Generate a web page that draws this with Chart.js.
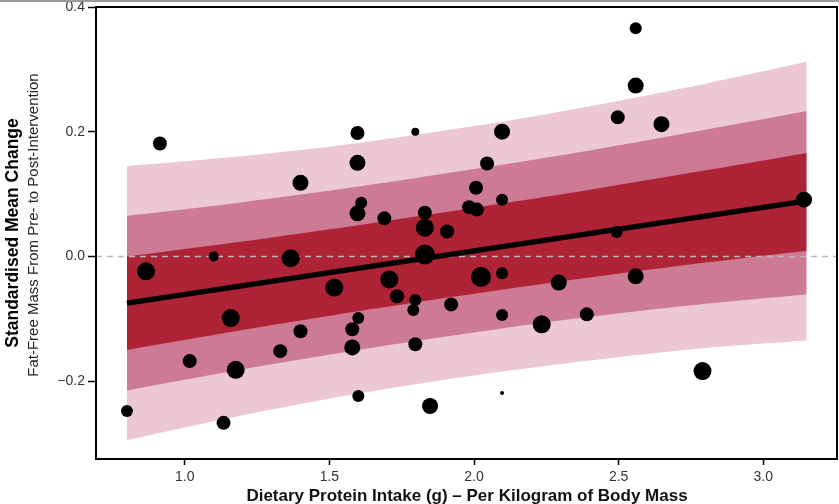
<!DOCTYPE html>
<html>
<head>
<meta charset="utf-8">
<script src="https://cdn.jsdelivr.net/npm/chart.js@4.4.1/dist/chart.umd.min.js"></script>
<style>
  html, body { margin: 0; padding: 0; background: #fff; }
  body { width: 839px; height: 504px; overflow: hidden; border-top: 2px solid #9a9a9a; box-sizing: border-box; }
  #wrap { position: relative; width: 839px; height: 502px; }
</style>
</head>
<body>
<div id="wrap"><canvas id="c"></canvas></div>
<script>
// ---- Data ----
const xTicks = [1.0, 1.5, 2.0, 2.5, 3.0];
const yTicks = [-0.2, 0.0, 0.2, 0.4];

// Study estimates: protein intake (g/kg), standardised mean change, weight (marker size)
const studyX = [0.80, 0.866, 0.914, 1.017, 1.10, 1.134, 1.159, 1.176, 1.33, 1.366,
                1.40, 1.40, 1.517, 1.579, 1.579, 1.597, 1.597, 1.597, 1.61, 1.60,
                1.60, 1.69, 1.707, 1.734, 1.797, 1.797, 1.79, 1.797, 1.83, 1.83,
                1.83, 1.848, 1.907, 1.921, 1.983, 2.01, 2.007, 2.024, 2.045, 2.097,
                2.097, 2.097, 2.097, 2.097, 2.234, 2.293, 2.39, 2.493, 2.497, 2.559,
                2.559, 2.559, 2.648, 2.79, 3.141];
const studyY = [-0.248, -0.024, 0.181, -0.168, 0.0, -0.267, -0.099, -0.182, -0.152, -0.003,
                0.118, -0.120, -0.050, -0.117, -0.146, 0.198, 0.150, 0.069, 0.086, -0.099,
                -0.224, 0.061, -0.037, -0.064, 0.200, -0.070, -0.086, -0.141, 0.070, 0.046,
                0.003, -0.240, 0.040, -0.077, 0.079, 0.075, 0.110, -0.033, 0.149, 0.200,
                0.091, -0.027, -0.094, -0.219, -0.109, -0.042, -0.093, 0.039, 0.223, 0.366,
                0.274, -0.032, 0.212, -0.184, 0.091];
const studyWeight = [6, 9, 7, 7, 5, 7, 9, 9, 7, 9,
                     8, 7, 9, 7, 8, 7, 8, 8, 6, 6,
                     6, 7, 9, 7, 4, 6, 6, 7, 7, 9,
                     10, 8, 7, 7, 7, 7, 7, 10, 7, 8,
                     6, 6, 6, 2, 9, 8, 7, 6, 7, 6,
                     8, 8, 8, 9, 8];

// Meta-regression fit and interval bands
const fitX = [0.80, 3.15];
const fitY = [-0.075, 0.089];
const bandX      = [0.80, 1.20, 1.60, 2.00, 2.40, 2.80, 3.15];
const outerUpper = [0.145, 0.161, 0.182, 0.209, 0.241, 0.277, 0.312];
const outerLower = [-0.295, -0.255, -0.220, -0.191, -0.167, -0.147, -0.135];
const midUpper   = [0.065, 0.087, 0.112, 0.140, 0.170, 0.203, 0.233];
const midLower   = [-0.215, -0.181, -0.150, -0.122, -0.097, -0.076, -0.061];
const innerUpper = [0.000, 0.024, 0.050, 0.078, 0.107, 0.138, 0.166];
const innerLower = [-0.150, -0.118, -0.088, -0.060, -0.034, -0.010, 0.009];

const xMin = 0.693, xMax = 3.255, yMin = -0.325, yMax = 0.40;

// ---- Build ----
const pts = (xs, ys) => xs.map((x, i) => ({ x: x, y: ys[i] }));
const FONT = "'Liberation Sans', Arial, Helvetica, sans-serif";
const C_OUTER = '#ecc8d3', C_MID = '#cd7b94', C_INNER = '#ae2335';

function band(data, color, fillTarget, order) {
  return { type: 'line', data: data, borderWidth: 0, borderColor: color, backgroundColor: color,
           pointRadius: 0, fill: fillTarget, order: order, tension: 0.3 };
}

const datasets = [
  band(pts(bandX, outerUpper), C_OUTER, 1, 30),
  band(pts(bandX, outerLower), C_OUTER, false, 31),
  band(pts(bandX, midUpper), C_MID, 3, 20),
  band(pts(bandX, midLower), C_MID, false, 21),
  band(pts(bandX, innerUpper), C_INNER, 5, 10),
  band(pts(bandX, innerLower), C_INNER, false, 11),
  { type: 'line', data: pts([xMin, xMax], [0, 0]), borderColor: '#b8b8b8', borderWidth: 1.5,
    borderDash: [6, 5], pointRadius: 0, fill: false, order: 6 },
  { type: 'line', data: pts(fitX, fitY), borderColor: '#000', borderWidth: 5.5,
    pointRadius: 0, fill: false, order: 4, borderCapStyle: 'butt' },
  { type: 'scatter', data: pts(studyX, studyY), backgroundColor: '#000', borderWidth: 0,
    pointRadius: studyWeight, pointHoverRadius: studyWeight, order: 0 }
];

const boxAndTitles = {
  id: 'boxAndTitles',
  afterDraw(chart) {
    const { ctx, chartArea: a } = chart;
    ctx.save();
    ctx.strokeStyle = '#000';
    ctx.lineWidth = 2;
    ctx.strokeRect(a.left, a.top, a.right - a.left, a.bottom - a.top);
    ctx.restore();

    ctx.save();
    ctx.fillStyle = '#000';
    ctx.textAlign = 'center';
    ctx.textBaseline = 'middle';
    ctx.translate(13, 231);
    ctx.rotate(-Math.PI / 2);
    ctx.font = 'bold 17.5px ' + FONT;
    ctx.fillText('Standardised Mean Change', 0, 0);
    ctx.restore();

    ctx.save();
    ctx.fillStyle = '#222';
    ctx.textAlign = 'center';
    ctx.textBaseline = 'middle';
    ctx.translate(34, 223);
    ctx.rotate(-Math.PI / 2);
    ctx.font = '15px ' + FONT;
    ctx.fillText('Fat-Free Mass From Pre- to Post-Intervention', 0, 0);
    ctx.restore();

    ctx.save();
    ctx.fillStyle = '#111';
    ctx.font = 'bold 17px ' + FONT;
    ctx.textAlign = 'center';
    ctx.textBaseline = 'middle';
    ctx.fillText('Dietary Protein Intake (g) \u2013 Per Kilogram of Body Mass', 467, 494);
    ctx.restore();
  }
};

new Chart(document.getElementById('c'), {
  type: 'scatter',
  data: { datasets: datasets },
  options: {
    responsive: true,
    maintainAspectRatio: false,
    animation: false,
    layout: { autoPadding: false, padding: { top: 5, right: 2, left: 0, bottom: 0 } },
    plugins: { legend: { display: false }, tooltip: { enabled: false },
               filler: { drawTime: 'beforeDatasetDraw' } },
    scales: {
      x: {
        type: 'linear', min: xMin, max: xMax,
        afterBuildTicks: s => { s.ticks = xTicks.map(v => ({ value: v })); },
        afterFit: s => { s.height = 45; s.paddingLeft = 0; s.paddingRight = 0; },
        ticks: { callback: v => v.toFixed(1), color: '#333', font: { family: FONT, size: 14 }, padding: 4, maxRotation: 0 },
        grid: { drawOnChartArea: false, drawTicks: true, tickLength: 6, tickColor: '#000', tickWidth: 1.5 },
        border: { display: true, color: '#000', width: 2 }
      },
      y: {
        type: 'linear', min: yMin, max: yMax,
        afterBuildTicks: s => { s.ticks = yTicks.map(v => ({ value: v })); },
        afterFit: s => { s.width = 96; s.paddingTop = 0; s.paddingBottom = 0; },
        ticks: { callback: v => v.toFixed(1).replace('-', '\u2212'), color: '#333', font: { family: FONT, size: 14 }, padding: 3 },
        grid: { drawOnChartArea: false, drawTicks: true, tickLength: 8, tickColor: '#000', tickWidth: 1.5 },
        border: { display: true, color: '#000', width: 2 }
      }
    }
  },
  plugins: [boxAndTitles]
});
</script>
</body>
</html>
